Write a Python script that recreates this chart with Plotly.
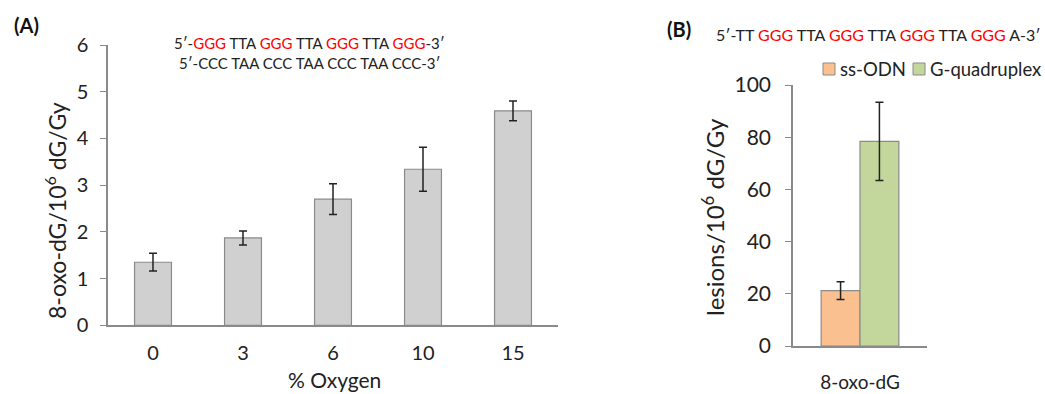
import plotly.graph_objects as go

# Panel A data
oxygen = ["0", "3", "6", "10", "15"]
oxo_vals = [1.35, 1.87, 2.70, 3.34, 4.59]
oxo_err = [0.19, 0.15, 0.33, 0.47, 0.21]

# Panel B data
b_cat = ["8-oxo-dG"]
ss_vals = [21.2]
ss_err = [3.4]
gq_vals = [78.4]
gq_err = [15.0]

FONT = "Lato"
W, H = 1045, 394
ORANGE = "#fac090"
GREEN = "#c3d69b"
EDGE = "#8a8a8a"

def px_x(p):
    return p / W

def px_y(p):
    return (H - p) / H

fig = go.Figure()

fig.add_trace(go.Bar(
    x=oxygen, y=oxo_vals, xaxis="x", yaxis="y",
    marker=dict(color="#d0d0d0", line=dict(color=EDGE, width=1.2)),
    width=0.41,
    error_y=dict(type="data", array=oxo_err, color="#222222", thickness=1.5, width=4),
    showlegend=False,
))

fig.add_trace(go.Bar(
    x=b_cat, y=ss_vals, xaxis="x2", yaxis="y2", name="ss-ODN",
    marker=dict(color=ORANGE, line=dict(color=EDGE, width=1.2)),
    width=0.29, offset=-0.29, showlegend=False,
    error_y=dict(type="data", array=ss_err, color="#222222", thickness=1.5, width=4),
))
fig.add_trace(go.Bar(
    x=b_cat, y=gq_vals, xaxis="x2", yaxis="y2", name="G-quadruplex",
    marker=dict(color=GREEN, line=dict(color=EDGE, width=1.2)),
    width=0.29, offset=0.0, showlegend=False,
    error_y=dict(type="data", array=gq_err, color="#222222", thickness=1.5, width=4),
))

axis_common = dict(showgrid=False, zeroline=False, showline=True, linecolor=EDGE,
                   linewidth=1.5, automargin=False)

fig.update_layout(
    width=W, height=H,
    margin=dict(l=0, r=0, t=0, b=0),
    paper_bgcolor="white", plot_bgcolor="white",
    barmode="overlay",
    showlegend=False,
    font=dict(family=FONT, color="#222222"),
    xaxis=dict(domain=[px_x(108), px_x(558)], anchor="y", type="category",
               tickfont=dict(size=20), ticks="", ticklabelstandoff=9,
               **axis_common),
    yaxis=dict(domain=[px_y(325.3), px_y(45)], anchor="x", range=[0, 6], dtick=1,
               tickfont=dict(size=20), ticks="outside", ticklen=6, tickcolor=EDGE,
               ticklabelstandoff=8,
               **axis_common),
    xaxis2=dict(domain=[px_x(793), px_x(927)], anchor="y2", type="category",
                tickfont=dict(size=19), ticks="", ticklabelstandoff=18,
                **axis_common),
    yaxis2=dict(domain=[px_y(346), px_y(85)], anchor="x2", range=[0, 100], dtick=20,
                tickfont=dict(size=21), ticks="outside", ticklen=6, tickcolor=EDGE,
                ticklabelstandoff=10,
                **axis_common),
)

def ann(text, x, y, size, xanchor="center", angle=0, color="#222222"):
    fig.add_annotation(text=text, x=px_x(x), y=px_y(y), xref="paper", yref="paper",
                       xanchor=xanchor, yanchor="middle", showarrow=False, textangle=angle,
                       font=dict(size=size, color=color, family=FONT))

R = "<span style='color:#ff0000'>GGG</span>"
ann("<b>(A)</b>", 12, 25, 20, xanchor="left", color="#111111")
ann("<b>(B)</b>", 665, 29, 20, xanchor="left", color="#111111")
ann(f"5′-{R} TTA {R} TTA {R} TTA {R}-3′", 309, 43, 15)
ann("5′-CCC TAA CCC TAA CCC TAA CCC-3′", 309, 63, 15)
ann(f"5′-TT {R} TTA {R} TTA {R} TTA {R} A-3′", 1043, 35, 16, xanchor="right")

# axis titles
ann("8-oxo-dG/10<sup>6</sup> dG/Gy", 55, 211, 23, angle=-90)
ann("% Oxygen", 334, 379, 21)
ann("lesions/10<sup>6</sup> dG/Gy", 713, 217, 24, angle=-90)

# legend (manual)
legend_items = [("ss-ODN", ORANGE, 823), ("G-quadruplex", GREEN, 913)]
for label, col, x0 in legend_items:
    fig.add_shape(type="rect", xref="paper", yref="paper",
                  x0=px_x(x0), x1=px_x(x0 + 12), y0=px_y(75), y1=px_y(63),
                  fillcolor=col, line=dict(color=EDGE, width=1))
    ann(label, x0 + 15, 69, 18.5, xanchor="left")

fig.write_html("out.html")
